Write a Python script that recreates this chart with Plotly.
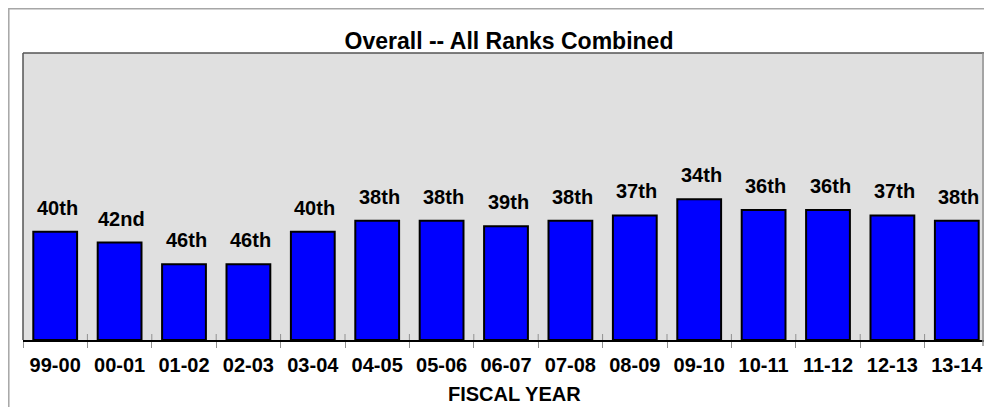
import plotly.graph_objects as go

fiscal_years = ["99-00", "00-01", "01-02", "02-03", "03-04", "04-05", "05-06", "06-07",
                "07-08", "08-09", "09-10", "10-11", "11-12", "12-13", "13-14"]
rank_labels = ["40th", "42nd", "46th", "46th", "40th", "38th", "38th", "39th",
               "38th", "37th", "34th", "36th", "36th", "37th", "38th"]
bar_values = [20, 18, 14, 14, 20, 22, 22, 21, 22, 23, 26, 24, 24, 23, 22]

# page is offset by the default 8px body margin
OFF = 8
PAGE_W, PAGE_H = 992, 415
W, H = PAGE_W - OFF, PAGE_H - 2 * OFF
PL, PR, PT, PB = 23, 989, 53, 340          # plot area in page pixels
ML, MR, MT = PL - OFF, PAGE_W - PR, PT - OFF
MB = (OFF + H) - PB
PH = PB - PT
PW = PR - PL
VISIBLE_RIGHT = PAGE_W - OFF                # page content is clipped here
FONT = "Liberation Sans, Arial, sans-serif"

def py(p):
    return (PB - p) / PH

def px(p):
    return (p - PL) / PW

fig = go.Figure()
fig.add_trace(go.Bar(
    x=fiscal_years, y=bar_values,
    marker=dict(color="#0000FF", line=dict(color="#000000", width=2)),
    hoverinfo="skip", showlegend=False,
))

annotations = []
for fy, v, lab in zip(fiscal_years, bar_values, rank_labels):
    annotations.append(dict(
        x=fy, y=v, xref="x", yref="y", text=lab, showarrow=False,
        yanchor="bottom", xanchor="center", yshift=11, xshift=2,
        font=dict(family=FONT, size=20, color="#000000", weight="bold"),
    ))
annotations.append(dict(
    x=px(515), y=py(394), xref="paper", yref="paper", text="FISCAL YEAR",
    showarrow=False, xanchor="center", yanchor="middle",
    font=dict(family=FONT, size=20, color="#000000", weight="bold"),
))

shapes = []
# outer frame
shapes.append(dict(type="rect", xref="paper", yref="paper",
                   x0=px(8.8), x1=px(1100), y0=py(600), y1=py(8.8),
                   line=dict(color="#A6A6A6", width=1.5), layer="below"))
# plot borders
shapes.append(dict(type="line", xref="paper", yref="paper", x0=0, x1=1, y0=1, y1=1,
                   line=dict(color="#555555", width=1.5)))
shapes.append(dict(type="line", xref="paper", yref="paper", x0=0, x1=0, y0=0, y1=1,
                   line=dict(color="#555555", width=1.5)))
shapes.append(dict(type="line", xref="paper", yref="paper",
                   x0=px(VISIBLE_RIGHT - 1), x1=px(VISIBLE_RIGHT - 1),
                   y0=py(346), y1=1, line=dict(color="#909090", width=1.5)))
# inner part of crossing ticks
for i in range(1, len(fiscal_years)):
    shapes.append(dict(type="line", xref="x", yref="paper", x0=i - 0.5, x1=i - 0.5,
                       y0=0, y1=6 / PH, line=dict(color="#909090", width=1)))

fig.update_layout(
    width=W, height=H,
    margin=dict(l=ML, r=MR, t=MT, b=MB, pad=0),
    paper_bgcolor="#FFFFFF", plot_bgcolor="#E0E0E0",
    bargap=0.32,
    title=dict(text="Overall -- All Ranks Combined", x=px(509) * PW / W + ML / W,
               xanchor="center",
               y=1 - (40.5 - OFF) / H, yref="container", yanchor="middle",
               font=dict(family=FONT, size=23, color="#000000", weight="bold")),
    xaxis=dict(
        type="category",
        showgrid=False, zeroline=False, showline=True, linecolor="#000000", linewidth=2,
        ticks="outside", ticklen=6, tickcolor="#909090", tickwidth=1,
        tickson="boundaries", ticklabelstandoff=6,
        tickfont=dict(family=FONT, size=20, color="#000000", weight="bold"),
        range=[-0.5, len(fiscal_years) - 0.5],
    ),
    yaxis=dict(range=[0, 53], showgrid=False, zeroline=False, showticklabels=False,
               showline=False, ticks=""),
    annotations=annotations, shapes=shapes,
)

fig.write_html("out.html")
